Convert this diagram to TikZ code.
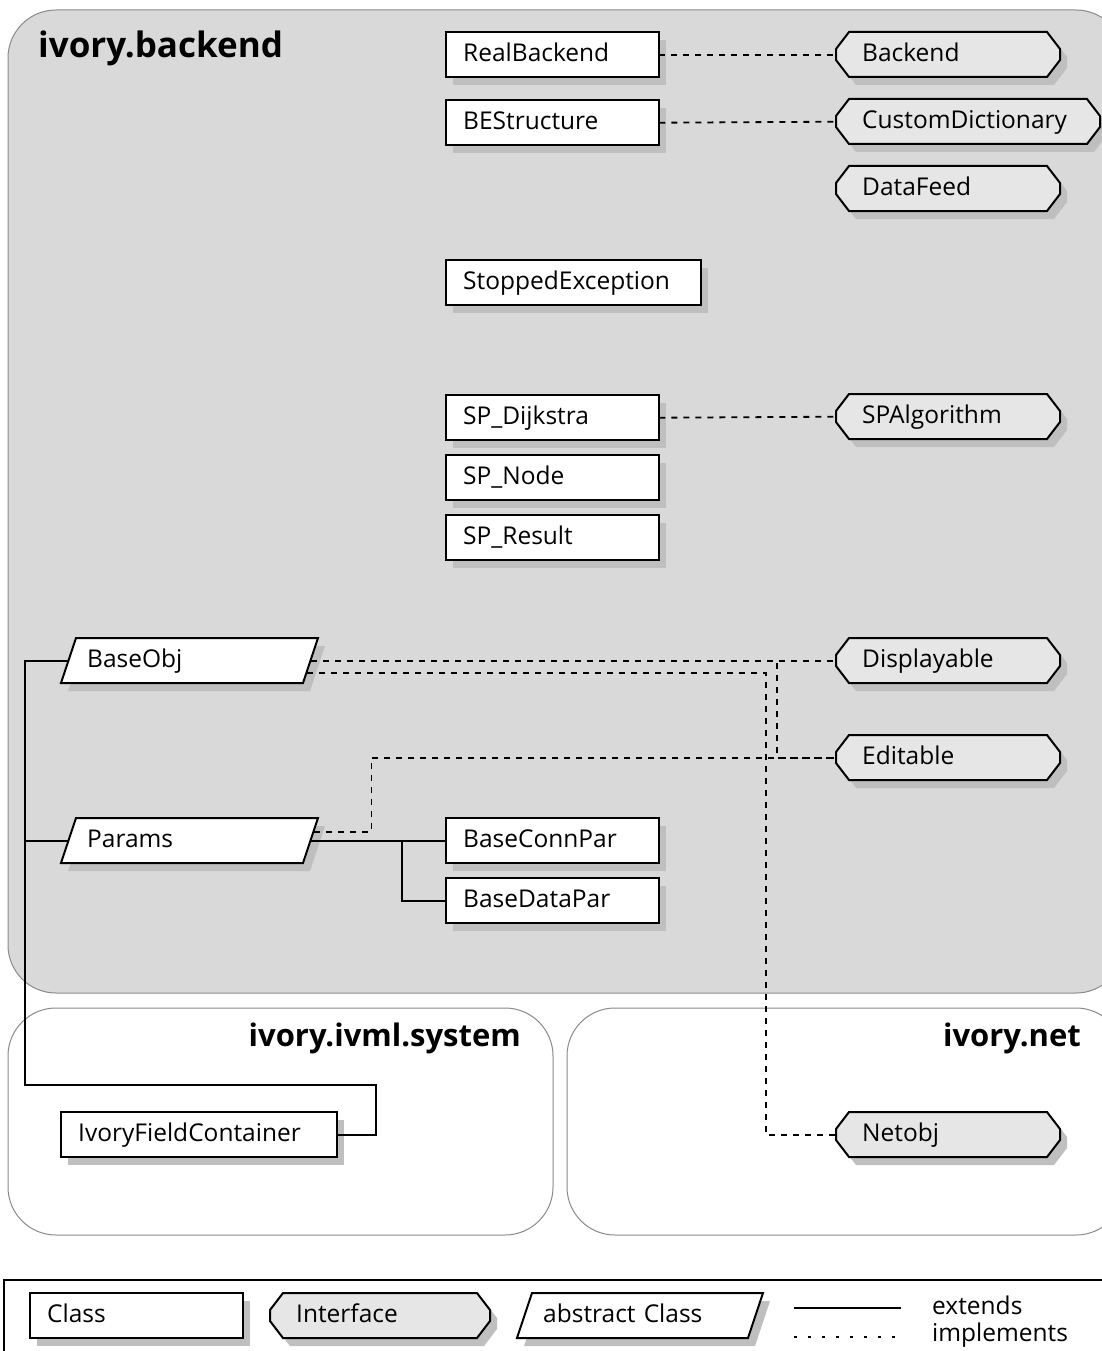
\documentclass[tikz,border=0pt]{standalone}
\usepackage{fontspec}
\setmainfont{Open Sans}
\usetikzlibrary{calc}

\definecolor{pkgfill}{HTML}{D9D9D9}
\definecolor{pkgline}{HTML}{8A8A8A}
\definecolor{iffill}{HTML}{E6E6E6}
\definecolor{shdfill}{HTML}{BFBFBF}

\tikzset{
  pkg/.style={draw=pkgline, line width=1, rounded corners=48},
  pkgtitle/.style={font=\fontsize{31}{36}\selectfont\bfseries, inner sep=0},
  shd/.style={fill=shdfill},
  outline/.style={draw=black, line width=2},
  txtnode/.style={anchor=north west, minimum height=45, inner ysep=0,
    align=left, text height=18, text depth=5,
    font=\fontsize{24.5}{28}\selectfont},
  ext/.style={line width=2, line join=miter},
  impl/.style={line width=1.8, dash pattern=on 6 off 6},
  legtext/.style={font=\fontsize{24.5}{28}\selectfont, inner sep=0, anchor=west}
}

% outlines of the three node kinds, width as argument, height 45
\newcommand\clspath[1]{(0,0) rectangle (#1,45)}
\newcommand\ifpath[1]{(13,0) -- (#1-13,0) -- (#1,17) -- (#1,28) -- (#1-13,45) -- (13,45) -- (0,28) -- (0,17) -- cycle}
\newcommand\abspath[1]{(15,0) -- (#1,0) -- (#1-15,45) -- (0,45) -- cycle}

% name, x, y, width, label
\newcommand\clsbox[5]{%
  \begin{scope}[shift={(#2,#3)}]
    \fill[shd,shift={(7,8)}] \clspath{#4};
    \draw[outline,fill=white] \clspath{#4};
    \pgfmathsetmacro\tw{#4-34}
    \node[txtnode, inner xsep=17, text width=\tw pt] (#1) at (0,0) {#5};
  \end{scope}}
\newcommand\ifbox[5]{%
  \begin{scope}[shift={(#2,#3)}]
    \fill[shd,shift={(7,8)}] \ifpath{#4};
    \draw[outline,fill=iffill] \ifpath{#4};
    \pgfmathsetmacro\tw{#4-52}
    \node[txtnode, inner xsep=26, text width=\tw pt] (#1) at (0,0) {#5};
  \end{scope}}
\newcommand\absbox[5]{%
  \begin{scope}[shift={(#2,#3)}]
    \fill[shd,shift={(7,8)}] \abspath{#4};
    \draw[outline,fill=white] \abspath{#4};
    \pgfmathsetmacro\tw{#4-52}
    \node[txtnode, inner xsep=26, text width=\tw pt] (#1) at (0,0) {#5};
  \end{scope}}

\begin{document}
\begin{tikzpicture}[x=1pt,y=-1pt]
\useasboundingbox (0,0) rectangle (1102,1351);
\clip (0,0) rectangle (1102,1351);

% packages
\draw[pkg, fill=pkgfill] (8,10) rectangle (1124,993);
\node[pkgtitle, anchor=west, font=\fontsize{35}{40}\selectfont\bfseries] (pkgbackend) at (38,48) {ivory.backend};
\draw[pkg, fill=white] (8,1008) rectangle (553,1235);
\node[pkgtitle, anchor=east] (pkgsystem) at (521,1038) {ivory.ivml.system};
\draw[pkg, fill=white] (567,1008) rectangle (1124,1235);
\node[pkgtitle, anchor=east] (pkgnet) at (1081,1038) {ivory.net};

% classes
\clsbox{RealBackend}{446}{32}{213}{RealBackend}
\clsbox{BEStructure}{446}{100}{213}{BEStructure}
\clsbox{StoppedException}{446}{260}{255}{StoppedException}
\clsbox{SPDijkstra}{446}{395}{213}{SP\_Dijkstra}
\clsbox{SPNode}{446}{455}{213}{SP\_Node}
\clsbox{SPResult}{446}{515}{213}{SP\_Result}
\clsbox{BaseConnPar}{446}{818}{213}{BaseConnPar}
\clsbox{BaseDataPar}{446}{878}{213}{BaseDataPar}
\clsbox{IvoryFieldContainer}{61}{1112}{276}{IvoryFieldContainer}

% interfaces
\ifbox{Backend}{836}{32}{224}{Backend}
\ifbox{CustomDictionary}{836}{99}{264}{CustomDictionary}
\ifbox{DataFeed}{836}{166}{224}{DataFeed}
\ifbox{SPAlgorithm}{836}{394}{224}{SPAlgorithm}
\ifbox{Displayable}{836}{638}{224}{Displayable}
\ifbox{Editable}{836}{735}{224}{Editable}
\ifbox{Netobj}{836}{1112}{224}{Netobj}

% abstract classes
\absbox{BaseObj}{61}{638}{257}{BaseObj}
\absbox{Params}{61}{818}{257}{Params}

% implements
\draw[impl] (RealBackend.east) -- (Backend.west);
\draw[impl] (BEStructure.east) -- (CustomDictionary.west);
\draw[impl] (SPDijkstra.east) -- (SPAlgorithm.west);
\draw[impl] ([xshift=-7]BaseObj.east) -- (Displayable.west);
\draw[impl] ([xshift=-7]BaseObj.east) -| ([xshift=-59]Editable.west) -- (Editable.west);
\draw[impl] ([shift={(-11,12)}]BaseObj.east) -| ([xshift=-70]Netobj.west) -- (Netobj.west);
\draw[impl] ([shift={(-4,-9)}]Params.east) -- ++(57,0) |- (Editable.west);

% extends
\draw[ext] ([xshift=7]BaseObj.west) -- ++(-43,0) coordinate (trunk)
  -- ++(0,424) -| ([xshift=39]IvoryFieldContainer.east) -- (IvoryFieldContainer.east);
\draw[ext] ([xshift=7]Params.west) -- (trunk |- Params.west);
\draw[ext] ([xshift=-7]Params.east) -- (BaseConnPar.west);
\draw[ext] ([xshift=-44]BaseConnPar.west) |- (BaseDataPar.west);

% legend
\draw[line width=2] (4,1280) rectangle (1120,1370);
\clsbox{legClass}{30}{1293}{213}{Class}
\ifbox{legInterface}{270}{1293}{220}{Interface}
\absbox{legAbstract}{517}{1293}{246}{abstract Class}
\node[legtext] (legExtends) at (932,1305) {extends};
\node[legtext] (legImplements) at (932,1335) {implements};
\coordinate (extA) at (794,1308);
\coordinate (extB) at (901,1308);
\coordinate (impA) at (794,1337);
\coordinate (impB) at (901,1337);
\draw[line width=1.6] (extA) -- (extB);
\draw[line width=1.6, dash pattern=on 3 off 11] (impA) -- (impB);
\end{tikzpicture}
\end{document}
